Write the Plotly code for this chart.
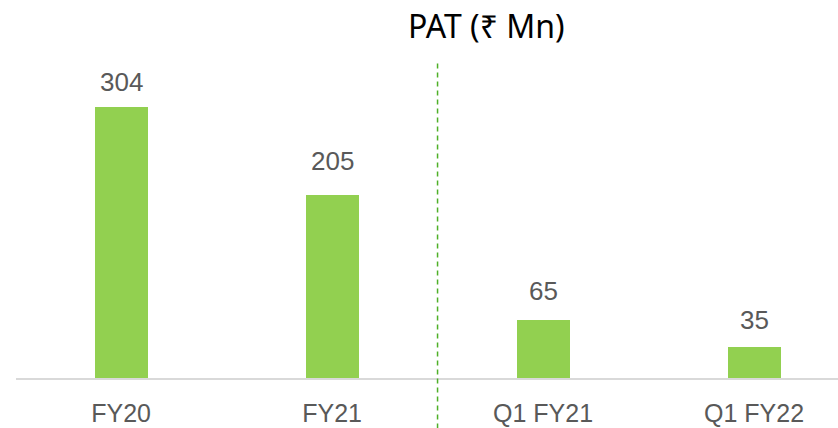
import plotly.graph_objects as go

categories = ["FY20", "FY21", "Q1 FY21", "Q1 FY22"]
pat_values = [304, 205, 65, 35]
title_text = "PAT (₹ Mn)"

# label offsets above bars (pixels), as in the original layout
label_offsets = [8, 17, 12, 10]

x_pos = list(range(len(categories)))

fig = go.Figure()
fig.add_trace(go.Bar(
    x=x_pos, y=pat_values, width=0.251,
    marker=dict(color="#92D050", line=dict(width=0)),
    hoverinfo="skip",
))

for xi, v, off in zip(x_pos, pat_values, label_offsets):
    fig.add_annotation(x=xi, y=v, text=str(v), showarrow=False,
                       yanchor="bottom", yshift=off,
                       font=dict(family="Liberation Sans", size=26, color="#595959"))

fig.add_shape(type="line", xref="x", yref="paper", x0=1.5, x1=1.5,
              y0=-0.16, y1=1.0,
              line=dict(color="#4EB027", width=1.5, dash="5px,4px"))

fig.add_annotation(xref="paper", yref="paper", x=(486 - 16) / 822, y=1,
                   yanchor="middle", yshift=37, text=title_text, showarrow=False,
                   font=dict(family="Noto Sans", size=32, color="#000000"))

fig.update_layout(
    width=838, height=428,
    margin=dict(l=16, r=0, t=62, b=50),
    plot_bgcolor="white", paper_bgcolor="white",
    showlegend=False,
    bargap=0,
    xaxis=dict(range=[-0.498, 3.398], tickmode="array", tickvals=x_pos,
               ticktext=categories, showgrid=False, zeroline=False,
               showline=True, linecolor="#D9D9D9", linewidth=1.5,
               ticks="", ticklabelstandoff=12,
               tickfont=dict(family="Liberation Sans", size=25, color="#595959")),
    yaxis=dict(range=[0, 354.5], visible=False, showgrid=False),
)

fig.write_html("out.html", config={"displayModeBar": False},
               post_script="document.body.style.margin='0';document.body.style.overflow='hidden';")
